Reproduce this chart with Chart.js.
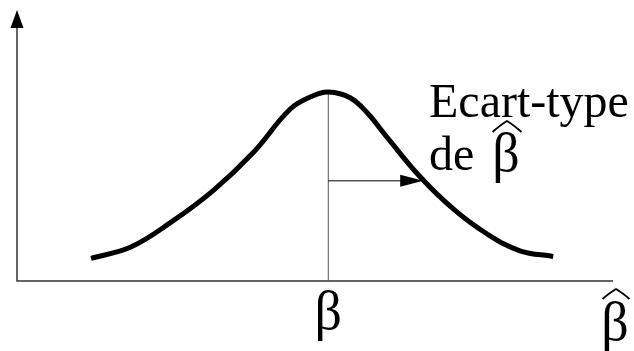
<!DOCTYPE html>
<html>
<head>
<meta charset="utf-8">
<script src="https://cdn.jsdelivr.net/npm/chart.js@4"></script>
<style>
  html, body { margin: 0; padding: 0; background: #fff; }
  #wrap { width: 634px; height: 351px; position: relative; }
</style>
</head>
<body>
<div id="wrap"><canvas id="bellChart"></canvas></div>
<script>
// sampling distribution of the estimator, x in units of its standard deviation
const curveX = [-2.5, -2.08, -1.66, -1.21, -0.79, -0.40, -0.16, 0, 0.23, 0.41, 0.62, 0.97, 1.32, 1.67, 2.02, 2.37];
const curveY = [0.12, 0.18, 0.31, 0.48, 0.68, 0.91, 0.98, 1.0, 0.97, 0.89, 0.76, 0.55, 0.38, 0.25, 0.16, 0.13];

const trueValue = 0;      // beta
const stdDev = 1;         // length of the "Ecart-type" arrow
const arrowLevel = 0.53;  // height at which the arrow is drawn
const peakHeight = 1.0;

const xRange = [-3.28, 3.0];
const yRange = [0, 1.434];

const serif = '"Liberation Serif", "Times New Roman", serif';

// wide circumflex over a letter
function hat(ctx, cx, top, w, h) {
    ctx.beginPath();
    ctx.moveTo(cx - w / 2, top + h);
    ctx.quadraticCurveTo(cx - w * 0.22, top + h * 0.35, cx, top);
    ctx.quadraticCurveTo(cx + w * 0.22, top + h * 0.35, cx + w / 2, top + h);
    ctx.lineWidth = 1.8;
    ctx.strokeStyle = '#000';
    ctx.stroke();
}

const annotations = {
    id: 'annotations',
    beforeDatasetsDraw(chart) {
        const ctx = chart.ctx;
        const x = chart.scales.x, y = chart.scales.y;
        const area = chart.chartArea;
        ctx.save();

        // axes
        ctx.strokeStyle = '#333';
        ctx.lineWidth = 1.5;
        ctx.beginPath();
        ctx.moveTo(area.left, area.top + 16);
        ctx.lineTo(area.left, area.bottom);
        ctx.lineTo(area.right, area.bottom);
        ctx.stroke();
        ctx.fillStyle = '#000';
        ctx.beginPath();
        ctx.moveTo(area.left, area.top);
        ctx.lineTo(area.left - 6.5, area.top + 18);
        ctx.lineTo(area.left + 6.5, area.top + 18);
        ctx.closePath();
        ctx.fill();

        // vertical line at beta
        const bx = x.getPixelForValue(trueValue);
        ctx.strokeStyle = '#555';
        ctx.lineWidth = 1;
        ctx.beginPath();
        ctx.moveTo(bx, y.getPixelForValue(0));
        ctx.lineTo(bx, y.getPixelForValue(peakHeight));
        ctx.stroke();

        // standard deviation arrow
        const ay = y.getPixelForValue(arrowLevel);
        const ax = x.getPixelForValue(trueValue + stdDev);
        ctx.strokeStyle = '#000';
        ctx.beginPath();
        ctx.moveTo(bx, ay);
        ctx.lineTo(ax - 20, ay);
        ctx.stroke();
        ctx.beginPath();
        ctx.moveTo(ax, ay);
        ctx.lineTo(ax - 23, ay - 6);
        ctx.lineTo(ax - 23, ay + 6);
        ctx.closePath();
        ctx.fill();

        // labels
        ctx.fillStyle = '#000';
        ctx.font = '48px ' + serif;
        ctx.textBaseline = 'alphabetic';
        ctx.textAlign = 'left';
        ctx.fillText('Ecart-type', 429, 117);
        ctx.fillText('de', 429, 170);

        ctx.font = '54px ' + serif;
        ctx.textAlign = 'center';
        ctx.fillText('β', 506, 171);
        hat(ctx, 507, 121, 29, 11);

        ctx.fillText('β', bx, 329);
        ctx.fillText('β', 615, 340);
        hat(ctx, 616, 289, 27, 10);
        ctx.restore();
    }
};

const ctx = document.getElementById('bellChart').getContext('2d');
new Chart(ctx, {
    type: 'scatter',
    data: {
        datasets: [{
            data: curveX.map((v, i) => ({ x: v, y: curveY[i] })),
            showLine: true,
            borderColor: '#000',
            borderWidth: 5,
            pointRadius: 0,
            tension: 0.4,
            borderCapStyle: 'butt'
        }]
    },
    plugins: [annotations],
    options: {
        responsive: true,
        maintainAspectRatio: false,
        animation: false,
        layout: { padding: { left: 17, right: 21, top: 10, bottom: 70 } },
        plugins: { legend: { display: false }, tooltip: { enabled: false } },
        scales: {
            x: { type: 'linear', min: xRange[0], max: xRange[1], display: false },
            y: { type: 'linear', min: yRange[0], max: yRange[1], display: false }
        }
    }
});
</script>
</body>
</html>
